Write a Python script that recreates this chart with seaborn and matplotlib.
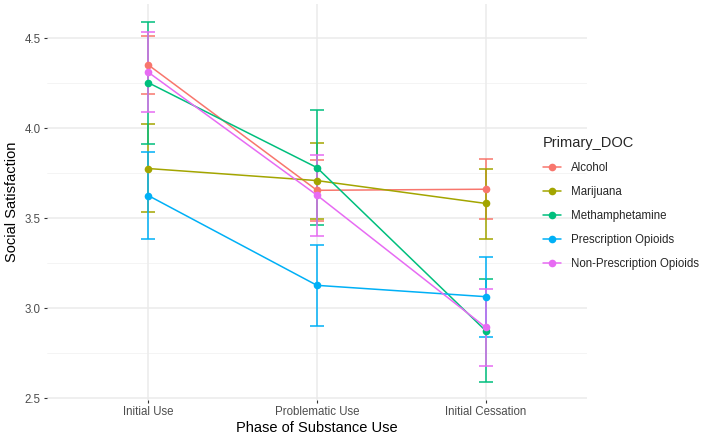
import numpy as np
import pandas as pd
import seaborn as sns
import matplotlib.pyplot as plt

# valores
phases = ["Initial Use", "Problematic Use", "Initial Cessation"]
drugs = ["Alcohol", "Marijuana", "Methamphetamine",
         "Prescription Opioids", "Non-Prescription Opioids"]

alcohol_mean = [4.352, 3.655, 3.661]
alcohol_lo = [4.188, 3.485, 3.493]
alcohol_hi = [4.515, 3.822, 3.831]

marijuana_mean = [3.776, 3.709, 3.582]
marijuana_lo = [3.532, 3.496, 3.383]
marijuana_hi = [4.021, 3.918, 3.776]

meth_mean = [4.253, 3.781, 2.875]
meth_lo = [3.910, 3.461, 2.592]
meth_hi = [4.589, 4.101, 3.160]

presc_mean = [3.626, 3.127, 3.064]
presc_lo = [3.385, 2.901, 2.838]
presc_hi = [3.868, 3.349, 3.285]

nonpresc_mean = [4.311, 3.628, 2.894]
nonpresc_lo = [4.090, 3.400, 2.681]
nonpresc_hi = [4.537, 3.851, 3.105]

colors = ["#F8766D", "#A3A500", "#00BF7D", "#00B0F6", "#E76BF3"]

means = [alcohol_mean, marijuana_mean, meth_mean, presc_mean, nonpresc_mean]
lows = [alcohol_lo, marijuana_lo, meth_lo, presc_lo, nonpresc_lo]
highs = [alcohol_hi, marijuana_hi, meth_hi, presc_hi, nonpresc_hi]

rows = []
for d, m, lo, hi in zip(drugs, means, lows, highs):
    for p, mv, l, h in zip(phases, m, lo, hi):
        rows.append({"Phase": p, "Primary_DOC": d, "mean": mv, "lo": l, "hi": h})
df = pd.DataFrame(rows)

sns.set_style("white")
plt.rcParams['font.family'] = ['Liberation Sans', 'DejaVu Sans']

fig = plt.figure(figsize=(7.09, 4.37), dpi=100)
ax = fig.add_axes([0.0663, 0.0847, 0.7615, 0.9061])

# grilla estilo ggplot
for v in np.arange(2.5, 4.75, 0.5):
    ax.axhline(v, color="#EBEBEB", lw=1.1, zorder=0)
for v in np.arange(2.75, 4.75, 0.5):
    ax.axhline(v, color="#F3F3F3", lw=0.6, zorder=0)
for v in range(3):
    ax.axvline(v, color="#EBEBEB", lw=1.1, zorder=0)

sns.lineplot(data=df, x="Phase", y="mean", hue="Primary_DOC", hue_order=drugs,
             palette=colors, marker="o", markersize=5.5, markeredgewidth=0,
             linewidth=1.1, ax=ax, zorder=3)

xs = np.arange(len(phases))
for d, c in zip(drugs, colors):
    sub = df[df["Primary_DOC"] == d]
    ax.errorbar(xs, sub["mean"], yerr=[sub["mean"] - sub["lo"], sub["hi"] - sub["mean"]],
                fmt="none", ecolor=c, elinewidth=1.1, capsize=5.3, capthick=1.1, zorder=2)

ax.set_xlim(-0.6, 2.6)
ax.set_ylim(2.49, 4.69)
ax.set_yticks([2.5, 3.0, 3.5, 4.0, 4.5])
ax.set_yticklabels(["2.5", "3.0", "3.5", "4.0", "4.5"])
ax.tick_params(axis="both", length=2.5, width=0.8, color="#333333",
               labelcolor="#4D4D4D", labelsize=8.3, pad=2, left=True, bottom=True)
for s in ax.spines.values():
    s.set_visible(False)

ax.set_xlabel("Phase of Substance Use", fontsize=10.5, color="black", labelpad=2)
ax.set_ylabel("Social Satisfaction", fontsize=10.5, color="black", labelpad=4)

handles, labels = ax.get_legend_handles_labels()
ax.legend(handles, labels, title="Primary_DOC", frameon=False,
          loc="upper left", bbox_to_anchor=(0.751, 0.713), bbox_transform=fig.transFigure,
          fontsize=8.3, title_fontsize=10.5, labelspacing=1.05, handlelength=1.6,
          alignment="left")

plt.savefig("out.png", dpi=100)
